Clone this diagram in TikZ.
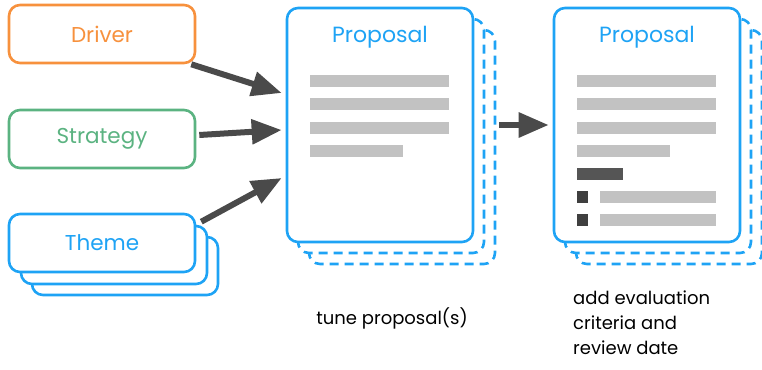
\documentclass[tikz,border=0pt]{standalone}
\usepackage{fontspec}
\setmainfont{Poppins}
\usepackage{tikz}
\usetikzlibrary{arrows.meta}
\usetikzlibrary{calc}
\usetikzlibrary{positioning}

\definecolor{driverc}{HTML}{F7913D}
\definecolor{stratc}{HTML}{5BB381}
\definecolor{themec}{HTML}{1EA3F5}
\definecolor{arrowc}{HTML}{4A4A4A}
\definecolor{barc}{HTML}{C2C2C2}
\definecolor{darkbarc}{HTML}{555555}
\definecolor{bulletc}{HTML}{3F3F3F}

\tikzset{
  card/.style={draw=#1,text=#1,rectangle,rounded corners=11pt,line width=2.6pt,fill=white,
    minimum width=186pt,minimum height=58pt,font=\fontsize{21.5}{23}\selectfont},
  page/.style={card=#1,minimum height=234pt},
  copy/.style={page=#1,dash pattern=on 9pt off 6pt},
  bar/.style={fill=barc,draw=none},
  flow/.style={draw=arrowc,line width=6pt,-{Triangle[length=30pt,width=24pt]}},
  note/.style={font=\fontsize{18}{25}\selectfont,align=left}
}

\begin{document}
\begin{tikzpicture}[x=1pt,y=-1pt]
  \useasboundingbox (0,0) rectangle (762,369);

  \node [card=themec] (Theme_2) at (125,266) {};
  \node [card=themec] (Theme_1) at (114,255) {};
  \node [card=themec] (Theme) at (102,243) {Theme};
  \node [card=driverc] (Driver) at (102,34) {Driver};
  \node [card=stratc] (Strategy) at (102,139) {Strategy};

  \node [copy=themec] (Ptune_2) at (402,147) {};
  \node [copy=themec] (Ptune_1) at (391,136) {};
  \node [page=themec] (P_tune) at (380,125) {};
  \node [text=themec,font=\fontsize{22}{24}\selectfont] (Ptune_title) at (380,37) {Proposal};

  \node [copy=themec] (Peval_2) at (669,147) {};
  \node [copy=themec] (Peval_1) at (658,136) {};
  \node [page=themec] (P_eval) at (647,125) {};
  \node [text=themec,font=\fontsize{22}{24}\selectfont] (Peval_title) at (647,37) {Proposal};

  \foreach \y/\w in {75/139,98/139,122/139,145/93} {
    \fill [bar] (310,\y) rectangle +(\w,12);
    \fill [bar] (577,\y) rectangle +(\w,12);
  }
  \fill [darkbarc] (577,168) rectangle +(46,12);
  \foreach \y in {191,214} {
    \fill [bulletc] (577,\y) rectangle +(11,12);
    \fill [bar] (600,\y) rectangle +(116,12);
  }

  \path [flow] ([xshift=-5pt,yshift=0pt]Driver.south east) -- ([xshift=-4pt,yshift=32pt]P_tune.west);
  \path [flow] ([xshift=3pt,yshift=4pt]Strategy.east) -- ([xshift=-4pt,yshift=-5pt]P_tune.west);
  \path [flow] ([xshift=5pt,yshift=-9pt]Theme.north east) -- ([xshift=-4pt,yshift=-53pt]P_tune.west);
  \path [flow,shorten <=25pt] (P_tune.east) -- ([xshift=-4pt]P_eval.west);

  \node [note] (tune_lab) at (392,318) {tune proposal(s)};
  \node [note,anchor=north west,inner sep=0pt] (eval_lab) at (573,291) {add evaluation\\criteria and\\review date};
\end{tikzpicture}
\end{document}
